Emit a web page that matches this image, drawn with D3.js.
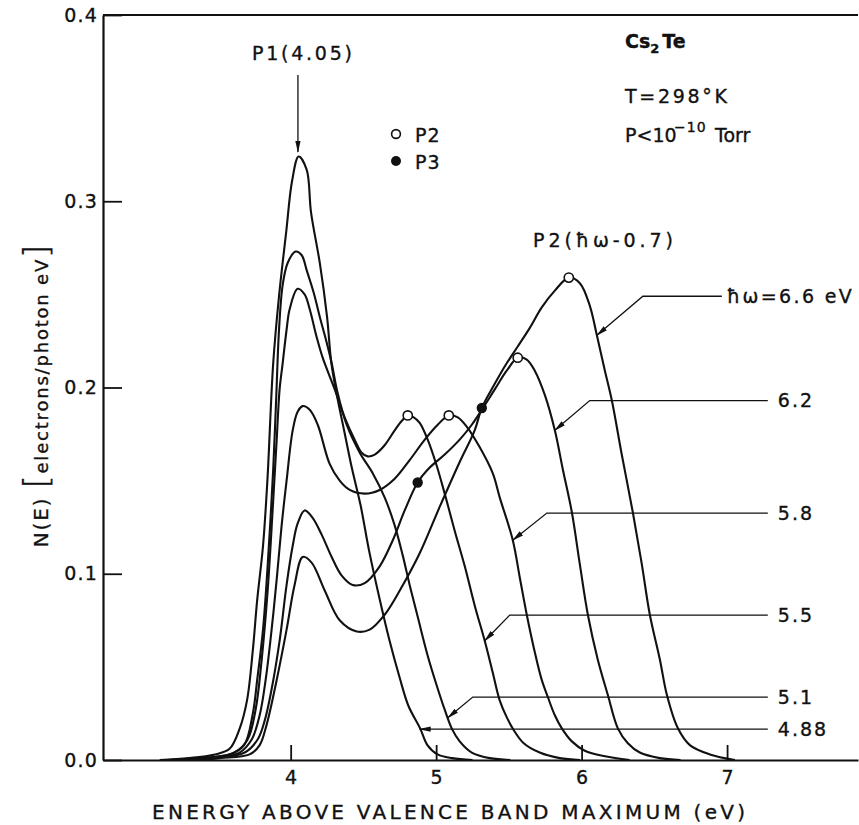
<!DOCTYPE html>
<html>
<head>
<meta charset="utf-8">
<script src="https://cdn.jsdelivr.net/npm/d3@7"></script>
<style>
  html, body { margin: 0; padding: 0; background: #fff; }
  svg { display: block; }
  text { font-family: "DejaVu Sans", "Liberation Sans", sans-serif; fill: #111; stroke: #111; stroke-width: 0.35px; }
</style>
</head>
<body>
<svg id="chart" width="859" height="825"></svg>
<script>
// Photon energies (eV) of the six energy distribution curves
const photonEnergies = [4.88, 5.1, 5.5, 5.8, 6.2, 6.6];

// N(E) curves: [energy above valence band maximum (eV), electrons / photon eV]
const edc488 = [[3.10,0],[3.30,0.001],[3.48,0.003],[3.58,0.006],[3.65,0.017],[3.70,0.032],[3.74,0.059],[3.77,0.086],[3.81,0.115],[3.84,0.150],[3.88,0.213],[3.92,0.249],[3.97,0.284],[4.01,0.311],[4.055,0.324],[4.11,0.317],[4.14,0.294],[4.20,0.267],[4.25,0.238],[4.28,0.213],[4.32,0.195],[4.37,0.176],[4.42,0.157],[4.48,0.137],[4.54,0.112],[4.61,0.087],[4.68,0.064],[4.75,0.044],[4.81,0.029],[4.89,0.017],[4.94,0.008],[5.01,0.003],[5.11,0.001],[5.25,0]];
const edc51 = [[3.15,0],[3.37,0.001],[3.58,0.003],[3.68,0.008],[3.74,0.025],[3.77,0.043],[3.81,0.070],[3.84,0.102],[3.88,0.156],[3.90,0.193],[3.92,0.231],[3.945,0.255],[3.98,0.267],[4.034,0.273],[4.076,0.271],[4.11,0.263],[4.158,0.251],[4.20,0.238],[4.248,0.224],[4.282,0.213],[4.323,0.197],[4.385,0.180],[4.475,0.165],[4.564,0.154],[4.646,0.141],[4.715,0.126],[4.77,0.110],[4.818,0.094],[4.873,0.077],[4.942,0.056],[5.004,0.040],[5.059,0.027],[5.107,0.017],[5.162,0.010],[5.245,0.004],[5.369,0.001],[5.51,0]];
const edc55 = [[3.20,0],[3.41,0.001],[3.615,0.004],[3.704,0.011],[3.759,0.027],[3.801,0.054],[3.842,0.091],[3.876,0.134],[3.904,0.172],[3.924,0.199],[3.945,0.213],[3.972,0.231],[3.993,0.242],[4.048,0.253],[4.096,0.250],[4.131,0.242],[4.179,0.227],[4.22,0.216],[4.303,0.199],[4.371,0.184],[4.44,0.172],[4.488,0.165],[4.53,0.163],[4.578,0.164],[4.646,0.169],[4.715,0.177],[4.763,0.182],[4.805,0.185],[4.846,0.184],[4.887,0.181],[4.942,0.172],[5.004,0.158],[5.066,0.141],[5.128,0.123],[5.197,0.104],[5.265,0.083],[5.334,0.064],[5.389,0.047],[5.437,0.032],[5.485,0.023],[5.534,0.016],[5.602,0.009],[5.712,0.004],[5.85,0.001],[5.99,0]];
const edc58 = [[3.25,0],[3.443,0.001],[3.649,0.004],[3.732,0.011],[3.787,0.024],[3.828,0.043],[3.869,0.070],[3.904,0.097],[3.938,0.126],[3.972,0.150],[4.014,0.177],[4.048,0.187],[4.083,0.190],[4.131,0.188],[4.186,0.180],[4.268,0.159],[4.337,0.150],[4.406,0.145],[4.509,0.143],[4.612,0.145],[4.715,0.151],[4.818,0.161],[4.922,0.172],[5.011,0.180],[5.087,0.185],[5.149,0.184],[5.21,0.179],[5.299,0.168],[5.389,0.154],[5.437,0.141],[5.527,0.118],[5.575,0.098],[5.623,0.078],[5.678,0.058],[5.726,0.043],[5.767,0.034],[5.816,0.024],[5.864,0.017],[5.933,0.010],[6.022,0.005],[6.16,0.002],[6.33,0]];
const edc62 = [[3.30,0],[3.477,0.001],[3.684,0.004],[3.773,0.011],[3.821,0.021],[3.869,0.038],[3.924,0.064],[3.972,0.094],[4.014,0.115],[4.048,0.127],[4.096,0.134],[4.151,0.130],[4.213,0.121],[4.282,0.109],[4.351,0.099],[4.426,0.094],[4.509,0.095],[4.612,0.104],[4.702,0.118],[4.784,0.134],[4.873,0.149],[4.956,0.157],[5.059,0.164],[5.162,0.172],[5.245,0.180],[5.314,0.188],[5.403,0.199],[5.485,0.209],[5.561,0.216],[5.623,0.215],[5.678,0.209],[5.747,0.196],[5.816,0.177],[5.871,0.156],[5.933,0.133],[5.988,0.105],[6.043,0.078],[6.111,0.054],[6.18,0.035],[6.249,0.017],[6.318,0.009],[6.40,0.004],[6.538,0.001],[6.68,0]];
const edc66 = [[3.35,0],[3.512,0.001],[3.718,0.003],[3.787,0.008],[3.835,0.019],[3.904,0.043],[3.972,0.070],[4.027,0.094],[4.083,0.109],[4.144,0.106],[4.234,0.091],[4.337,0.075],[4.454,0.069],[4.543,0.070],[4.646,0.078],[4.75,0.091],[4.887,0.111],[5.025,0.136],[5.162,0.160],[5.265,0.177],[5.314,0.189],[5.403,0.202],[5.485,0.213],[5.561,0.222],[5.644,0.232],[5.726,0.243],[5.816,0.252],[5.912,0.259],[5.988,0.256],[6.056,0.244],[6.105,0.228],[6.16,0.209],[6.208,0.193],[6.276,0.164],[6.352,0.133],[6.414,0.105],[6.469,0.078],[6.538,0.054],[6.586,0.035],[6.662,0.017],[6.744,0.008],[6.882,0.003],[7.054,0]];
const curves = [edc488, edc51, edc55, edc58, edc62, edc66];

// P2 peaks (at ħω − 0.7) and P3 shoulders: [energy, N(E)]
const p2Peaks = [[4.805,0.185],[5.087,0.185],[5.561,0.216],[5.912,0.259]];
const p3Shoulders = [[4.873,0.149],[5.314,0.189]];

// P1 peak position (eV)
const p1Energy = 4.05;

// Tick values
const xTicks = [4, 5, 6, 7];
const yTicks = [0, 0.1, 0.2, 0.3, 0.4];

// Curve labels: level of the label line (N), knee energy, energy where the arrow meets the curve, line end energy
const leaderLabels = ["ħω=6.6 eV", "6.2", "5.8", "5.5", "5.1", "4.88"];
const leaderCurve  = [5, 4, 3, 2, 1, 0];
const leaderLevel  = [0.249, 0.193, 0.1326, 0.0778, 0.0338, 0.0166];
const leaderKnee   = [6.421, 6.056, 5.761, 5.506, 5.252, null];
const leaderAt     = [6.105, 5.816, 5.527, 5.334, 5.080, 4.887];
const leaderEnd    = [6.964, 7.28, 7.28, 7.28, 7.28, 7.28];

const svg = d3.select("#chart");
const ink = "#111";

const x = d3.scaleLinear().domain([2.71, 7.9]).range([103, 858]);
const y = d3.scaleLinear().domain([0, 0.4]).range([760, 15]);

// arrowhead markers
const defs = svg.append("defs");
defs.append("marker")
  .attr("id", "arrow")
  .attr("viewBox", "0 -4 12 8")
  .attr("refX", 11).attr("refY", 0)
  .attr("markerWidth", 12).attr("markerHeight", 8)
  .attr("markerUnits", "userSpaceOnUse")
  .attr("orient", "auto-start-reverse")
  .append("path").attr("d", "M0,-2.6L12,0L0,2.6Z").attr("fill", ink);

// axes
const xAxis = d3.axisBottom(x).tickValues(xTicks).tickSizeInner(-15).tickSizeOuter(0)
  .tickPadding(11).tickFormat(d3.format("d"));
const yAxis = d3.axisLeft(y).tickValues(yTicks).tickSizeInner(-19).tickSizeOuter(0)
  .tickPadding(5).tickFormat(d3.format(".1f"));

const gx = svg.append("g").attr("transform", `translate(0,${y(0)})`).call(xAxis);
const gy = svg.append("g").attr("transform", `translate(${x.range()[0]},0)`).call(yAxis);
[gx, gy].forEach(g => {
  g.select(".domain").attr("stroke", ink).attr("stroke-width", 2.2);
  g.selectAll(".tick line").attr("stroke", ink).attr("stroke-width", 1.8);
  g.selectAll(".tick text").attr("fill", ink).style("font-size", "19px")
    .style("font-family", '"DejaVu Sans", sans-serif');
});
gy.selectAll(".tick text").attr("letter-spacing", "1.2px");

// top frame line
svg.append("line")
  .attr("x1", x.range()[0]).attr("x2", x.range()[1])
  .attr("y1", y(0.4)).attr("y2", y(0.4))
  .attr("stroke", ink).attr("stroke-width", 2.2);

// axis titles
svg.append("text")
  .attr("x", 152).attr("y", 819)
  .attr("textLength", 593).attr("lengthAdjust", "spacing")
  .style("font-size", "20px")
  .text("ENERGY ABOVE VALENCE BAND MAXIMUM (eV)");

const yTitle = svg.append("text")
  .attr("transform", "translate(48,395) rotate(-90)")
  .attr("text-anchor", "middle")
  .attr("letter-spacing", "1.8px")
  .style("font-size", "20px");
yTitle.append("tspan").text("N(E) ");
yTitle.append("tspan").style("font-size", "34px").style("font-weight", "300").text("[");
yTitle.append("tspan").style("font-size", "18px").text("electrons/photon eV");
yTitle.append("tspan").style("font-size", "34px").style("font-weight", "300").text("]");

// energy distribution curves
const line = d3.line().x(d => x(d[0])).y(d => Math.min(y(d[1]), y(0)))
  .curve(d3.curveCatmullRom.alpha(0.5));
svg.append("g").selectAll("path").data(curves).join("path")
  .attr("d", line)
  .attr("fill", "none").attr("stroke", ink).attr("stroke-width", 2.1)
  .attr("stroke-linejoin", "round");

// value of a curve at energy e (linear between read points)
function valueAt(pts, e) {
  for (let i = 1; i < pts.length; i++) {
    if (pts[i][0] >= e) {
      const [x0, y0] = pts[i - 1], [x1, y1] = pts[i];
      return y0 + (y1 - y0) * (e - x0) / (x1 - x0);
    }
  }
  return 0;
}

// labelled leader lines
leaderLabels.forEach((lab, i) => {
  const pts = curves[leaderCurve[i]];
  const tx = x(leaderAt[i]), ty = y(valueAt(pts, leaderAt[i]));
  const ly = y(leaderLevel[i]);
  let d = `M${tx},${leaderKnee[i] === null ? ly : ty}`;
  if (leaderKnee[i] !== null) d += `L${x(leaderKnee[i])},${ly}`;
  d += `L${x(leaderEnd[i])},${ly}`;
  svg.append("path").attr("d", d)
    .attr("fill", "none").attr("stroke", ink).attr("stroke-width", 1.3)
    .attr("marker-start", "url(#arrow)");
  const t = svg.append("text")
    .attr("x", x(leaderEnd[i]) + (i === 0 ? 5 : 10))
    .attr("y", ly).attr("dy", "0.36em")
    .style("font-size", "19px")
    .text(lab);
  if (i === 0) t.attr("textLength", 125).attr("lengthAdjust", "spacing");
  else t.attr("letter-spacing", "2px");
});

// P2 and P3 markers
svg.append("g").selectAll("circle").data(p2Peaks).join("circle")
  .attr("cx", d => x(d[0])).attr("cy", d => y(d[1])).attr("r", 4.6)
  .attr("fill", "#fff").attr("stroke", ink).attr("stroke-width", 1.6);
svg.append("g").selectAll("circle").data(p3Shoulders).join("circle")
  .attr("cx", d => x(d[0])).attr("cy", d => y(d[1])).attr("r", 5.2)
  .attr("fill", ink);

// P1 label with arrow
svg.append("text")
  .attr("x", x(p1Energy) + 4).attr("y", 60)
  .attr("text-anchor", "middle")
  .attr("textLength", 100).attr("lengthAdjust", "spacing")
  .style("font-size", "19px")
  .text("P1(4.05)");
svg.append("path")
  .attr("d", `M${x(p1Energy)},152L${x(p1Energy)},75`)
  .attr("stroke", ink).attr("stroke-width", 1.3)
  .attr("marker-start", "url(#arrow)");

// legend
svg.append("circle").attr("cx", 396).attr("cy", 134).attr("r", 4.4)
  .attr("fill", "#fff").attr("stroke", ink).attr("stroke-width", 1.6);
svg.append("text").attr("x", 415).attr("y", 142).style("font-size", "19px")
  .attr("letter-spacing", "1px").text("P2");
svg.append("circle").attr("cx", 396).attr("cy", 161).attr("r", 5).attr("fill", ink);
svg.append("text").attr("x", 415).attr("y", 169).style("font-size", "19px")
  .attr("letter-spacing", "1px").text("P3");

// sample and conditions
const cs = svg.append("text").attr("x", 625).attr("y", 48)
  .style("font-size", "19px").style("font-weight", "bold");
cs.append("tspan").text("Cs");
cs.append("tspan").attr("dy", 5).style("font-size", "13px").text("2");
cs.append("tspan").attr("dy", -5).attr("dx", 3).text("Te");

svg.append("text").attr("x", 625).attr("y", 103)
  .attr("textLength", 102).attr("lengthAdjust", "spacing")
  .style("font-size", "19px").text("T=298°K");

const pr = svg.append("text").attr("y", 142).style("font-size", "19px");
pr.append("tspan").attr("x", 625).text("P<10");
pr.append("tspan").attr("x", 674).attr("dy", -10).style("font-size", "14px")
  .attr("letter-spacing", "1px").text("−10");
pr.append("tspan").attr("x", 715).attr("dy", 10).text("Torr");

svg.append("text").attr("x", 533).attr("y", 247)
  .attr("textLength", 140).attr("lengthAdjust", "spacing")
  .style("font-size", "19px").text("P2(ħω-0.7)");
</script>
</body>
</html>
